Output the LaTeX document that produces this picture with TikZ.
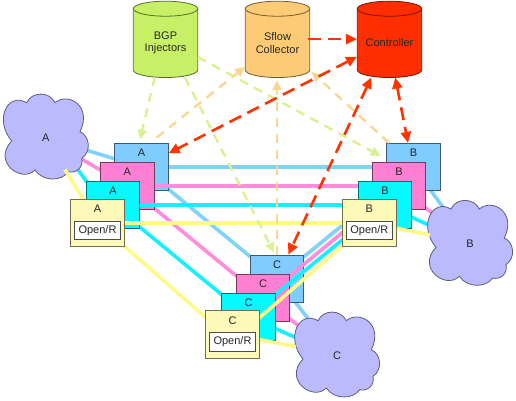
\documentclass[tikz,border=0pt]{standalone}
\usepackage{fontspec}
\setmainfont{Liberation Sans}
\usetikzlibrary{arrows.meta}
\pgfdeclarelayer{blueline}\pgfdeclarelayer{bluebox}
\pgfdeclarelayer{pinkline}\pgfdeclarelayer{pinkbox}
\pgfdeclarelayer{cyanline}\pgfdeclarelayer{cyanbox}
\pgfdeclarelayer{cloudlayer}
\pgfdeclarelayer{yellowline}\pgfdeclarelayer{yellowbox}
\pgfsetlayers{blueline,bluebox,pinkline,pinkbox,cyanline,cyanbox,cloudlayer,yellowline,yellowbox,main}
\definecolor{bluefill}{HTML}{80CCFF}
\definecolor{pinkfill}{HTML}{FF80D2}
\definecolor{cyanfill}{HTML}{05FAFF}
\definecolor{yellowfill}{HTML}{FDF9B8}
\definecolor{blueln}{HTML}{80D2F8}
\definecolor{pinkln}{HTML}{FF8CDC}
\definecolor{cyanln}{HTML}{14F0FF}
\definecolor{yellowln}{HTML}{FFF988}
\definecolor{cloudfill}{HTML}{BABAFC}
\definecolor{bgpfill}{HTML}{C8F066}
\definecolor{sflowfill}{HTML}{FDCB76}
\definecolor{ctrlfill}{HTML}{FF2E00}
\definecolor{greenarrow}{HTML}{D8F292}
\definecolor{orangearrow}{HTML}{FAD692}
\definecolor{redarrow}{HTML}{FF3300}
\tikzset{
  txt/.style={font=\fontsize{11}{12.5}\selectfont,text=black!85,align=center,inner sep=0pt},
  router/.style={draw=#1!45!black,fill=#1,line width=.8pt,minimum width=53.3pt,minimum height=47.4pt,inner sep=0pt},
  openr/.style={draw=black!70,fill=white,line width=.8pt,minimum width=45.3pt,minimum height=18.3pt,inner sep=0pt,txt},
  cylbox/.style={minimum width=64.4pt,minimum height=76.3pt,inner sep=0pt},
  link/.style={line width=3.6pt,#1},
  grn/.style={line width=2.4pt,greenarrow,dash pattern=on 9pt off 7pt,-{Triangle[length=10pt,width=9pt]}},
  org/.style={line width=2.4pt,orangearrow,dash pattern=on 9pt off 7pt,-{Triangle[length=10pt,width=9pt]}},
  rd/.style={line width=2.6pt,redarrow,dash pattern=on 13pt off 7pt,-{Triangle[length=11pt,width=10pt]}},
  rdb/.style={rd,{Triangle[length=11pt,width=10pt]}-{Triangle[length=11pt,width=10pt]}},
}
\newcommand{\routergroup}[6]{%
  \begin{pgfonlayer}{bluebox}\node[router=bluefill,label={[txt,anchor=center,yshift=-10pt]north:#2}] (#1b) at #3 {};\end{pgfonlayer}%
  \begin{pgfonlayer}{pinkbox}\node[router=pinkfill,label={[txt,anchor=center,yshift=-10pt]north:#2}] (#1p) at #4 {};\end{pgfonlayer}%
  \begin{pgfonlayer}{cyanbox}\node[router=cyanfill,label={[txt,anchor=center,yshift=-10pt]north:#2}] (#1c) at #5 {};\end{pgfonlayer}%
  \begin{pgfonlayer}{yellowbox}\node[router=yellowfill,label={[txt,anchor=center,yshift=-10pt]north:#2}] (#1y) at #6 {};%
  \node[openr,yshift=-7.5pt] (#1o) at #6 {Open/R};\end{pgfonlayer}%
}
\newcommand{\cloudnode}[4]{%
  \begin{pgfonlayer}{cloudlayer}%
  \begin{scope}[shift={(#2,#3)}]
  \path[fill=cloudfill,draw=cloudfill!50!black,line width=.8pt]
    (-19,-35) .. controls (-14,-46.5) and (4,-46.5) .. (9.3,-35)
    .. controls (22,-46) and (47,-32) .. (34.3,-6)
    .. controls (44,-2) and (46,14) .. (36,20.7)
    .. controls (38,30) and (30,36) .. (22.7,34)
    .. controls (16,44) and (-3,44) .. (-10.7,32.3)
    .. controls (-24,46) and (-54,24) .. (-34,3.3)
    .. controls (-52,-18) and (-38,-46) .. (-19,-35) -- cycle;
  \end{scope}
  \node[txt] (#1) at (#2,#3) {#4};%
  \end{pgfonlayer}%
}
\newcommand{\cylnode}[4]{%
  \path[fill=#3,draw=#3!45!black,line width=.8pt]
    (#2-32.2,8.7) -- (#2-32.2,70) arc[start angle=180,end angle=360,x radius=32.2pt,y radius=7.5pt]
    -- (#2+32.2,8.7) arc[start angle=0,end angle=180,x radius=32.2pt,y radius=7.5pt] -- cycle;
  \draw[draw=#3!45!black,line width=.8pt] (#2-32.2,8.7) arc[start angle=180,end angle=360,x radius=32.2pt,y radius=7.5pt];
  \node[cylbox] (#1) at (#2,39.1) {};
  \node[txt] (#1t) at (#2,43) {#4};%
}
\begin{document}
\begin{tikzpicture}[x=1pt,y=-1pt]
\useasboundingbox (0,0) rectangle (516,400);

% routers
\routergroup{A}{A}{(141.5,167)}{(127.3,186)}{(113,205)}{(97.5,222.7)}
\routergroup{B}{B}{(413.5,167)}{(399,186)}{(385,205)}{(369.3,222.7)}
\routergroup{C}{C}{(277,278.7)}{(263,298)}{(248.5,316.7)}{(232.5,334.4)}

% clouds
\cloudnode{cloudA}{45.7}{137.7}{A}
\cloudnode{cloudB}{470}{244}{B}
\cloudnode{cloudC}{337}{355.7}{C}
\coordinate (edgeA) at (65,169.5);
\coordinate (edgeB) at (430,235);
\coordinate (edgeC) at (296,346.7);

% links
\begin{pgfonlayer}{blueline}
\draw[link=blueln] (Ab.center) -- (Bb.center);
\draw[link=blueln] (Ab.center) -- (Cb.center);
\draw[link=blueln] (Bb.center) -- (Cb.center);
\draw[link=blueln] (cloudA.center) -- (Ab.center);
\draw[link=blueln] (cloudB.center) -- (Bb.center);
\draw[link=blueln] (cloudC.center) -- (Cb.center);
\end{pgfonlayer}
\begin{pgfonlayer}{pinkline}
\draw[link=pinkln] (Ap.center) -- (Bp.center);
\draw[link=pinkln] (Ap.center) -- (Cp.center);
\draw[link=pinkln] (Bp.center) -- (Cp.center);
\draw[link=pinkln] (cloudA.center) -- (Ap.center);
\draw[link=pinkln] (cloudB.center) -- (Bp.center);
\draw[link=pinkln] (cloudC.center) -- (Cp.center);
\end{pgfonlayer}
\begin{pgfonlayer}{cyanline}
\draw[link=cyanln] (Ac.center) -- (Bc.center);
\draw[link=cyanln] (Ac.center) -- (Cc.center);
\draw[link=cyanln] (Bc.center) -- (Cc.center);
\draw[link=cyanln] ([xshift=-37pt,yshift=38pt]Ac.center) -- ([xshift=-13pt,yshift=5pt]Ac.center);
\draw[link=cyanln] (cloudB.center) -- (Bc.center);
\draw[link=cyanln] (cloudC.center) -- (Cc.center);
\end{pgfonlayer}
\begin{pgfonlayer}{yellowline}
\draw[link=yellowln] (Ay.center) -- (By.center);
\draw[link=yellowln] (Ay.center) -- ([yshift=-6.5pt]Cy.center);
\draw[link=yellowln] (By.center) -- ([yshift=-6.5pt]Cy.center);
\draw[link=yellowln] (edgeA) -- (Ay.center);
\draw[link=yellowln] (edgeB) -- (By.center);
\draw[link=yellowln] (edgeC) -- (Cy.center);
\end{pgfonlayer}

% cylinders
\cylnode{bgp}{165.5}{bgpfill}{BGP\\Injectors}
\cylnode{sflow}{277.5}{sflowfill}{Sflow\\Collector}
\cylnode{ctrl}{389.5}{ctrlfill}{Controller}

% dashed arrows
\draw[grn] ([xshift=-10.8pt]bgp.south) -- ([xshift=-1.5pt,yshift=3.3pt]Ab.north);
\draw[grn] ([xshift=19.5pt]bgp.south) -- ([xshift=-3pt,yshift=2pt]Cb.north);
\draw[grn] ([yshift=-18pt]bgp.east) -- ([xshift=-5.7pt,yshift=11pt]Bb.west);
\draw[org] ([xshift=15.2pt,yshift=5.3pt]Ab.north) -- ([yshift=-27.7pt]sflow.west);
\draw[org] (Cb.north) -- ([xshift=-.5pt,yshift=-2.7pt]sflow.south);
\draw[org] ([xshift=2.7pt]Bb.north west) -- ([xshift=1.6pt,yshift=5.6pt]sflow.south east);
\draw[rd] ([xshift=-1.5pt]sflow.east) -- (ctrl.west);
\draw[rdb] ([yshift=-17.6pt]ctrl.west) -- ([yshift=13.7pt]Ab.east);
\draw[rdb] ([xshift=-18.2pt]ctrl.south) -- ([xshift=11.3pt]Cb.north);
\draw[rdb] ([xshift=5.8pt]ctrl.south) -- ([xshift=-5.5pt]Bb.north);
\end{tikzpicture}
\end{document}
